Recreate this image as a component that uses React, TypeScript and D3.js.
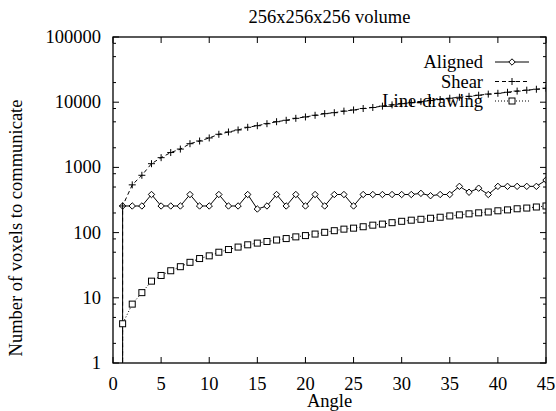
import React from "react";
import * as d3 from "d3";

const title = "256x256x256 volume";
const xLabel = "Angle";
const yLabel = "Number of voxels to communicate";

// angles 1..45; each series starts with a below-range point at angle 1 (vertical drop line)
const angles = [1, 1, 2, 3, 4, 5, 6, 7, 8, 9, 10, 11, 12, 13, 14, 15, 16, 17, 18, 19, 20, 21, 22, 23, 24, 25, 26, 27, 28, 29, 30, 31, 32, 33, 34, 35, 36, 37, 38, 39, 40, 41, 42, 43, 44, 45];

const aligned = [0.5, 256, 256, 256, 384, 256, 256, 256, 384, 256, 256, 384, 256, 256, 384, 230, 256, 384, 256, 384, 256, 384, 256, 384, 384, 256, 384, 384, 384, 384, 384, 384, 400, 368, 384, 384, 512, 416, 480, 384, 512, 512, 512, 512, 512, 640];

const shear = [0.5, 256, 540, 757, 1140, 1410, 1690, 1910, 2310, 2540, 2830, 3220, 3490, 3750, 4120, 4360, 4680, 5020, 5280, 5660, 5940, 6300, 6670, 6900, 7300, 7600, 8000, 8300, 8700, 9100, 9500, 9800, 10200, 10600, 11000, 11500, 11900, 12300, 12800, 13300, 13700, 14200, 14800, 15300, 15800, 16400];

const lineDrawing = [0.5, 4, 8, 12, 18, 22, 26, 30, 35, 40, 44, 50, 55, 60, 65, 69, 73, 77, 81, 86, 90, 95, 101, 107, 113, 117, 123, 130, 135, 142, 149, 155, 160, 166, 172, 180, 187, 194, 201, 207, 216, 223, 232, 238, 247, 256];

const xTicks = [0, 5, 10, 15, 20, 25, 30, 35, 40, 45];
const yTicks = [1, 10, 100, 1000, 10000, 100000];
const yTickLabels = ["1", "10", "100", "1000", "10000", "100000"];
const yMinorFactors = [2, 5, 8];

const seriesNames = ["Aligned", "Shear", "Line-drawing"];

const W = 556, H = 411;
const L = 113, R = 546, T = 37, B = 363;
const FONT = "'Liberation Serif', 'DejaVu Serif', serif";
const FS = 18.5;

function Marker({ kind, x, y }: { kind: string; x: number; y: number }) {
  if (kind === "diamond") {
    const s = 3.2;
    return <path d={`M${x},${y - s}L${x + s},${y}L${x},${y + s}L${x - s},${y}Z`} fill="white" stroke="black" strokeWidth={1} />;
  }
  if (kind === "plus") {
    const s = 3.5;
    return <path d={`M${x - s},${y}H${x + s}M${x},${y - s}V${y + s}`} stroke="black" strokeWidth={1} fill="none" />;
  }
  const s = 3;
  return <rect x={x - s} y={y - s} width={2 * s} height={2 * s} fill="white" stroke="black" strokeWidth={1} />;
}

export default function App() {
  const x = d3.scaleLinear().domain([0, 45]).range([L, R]);
  const y = d3.scaleLog().domain([1, 100000]).range([B, T]);

  const series = [
    { name: seriesNames[0], values: aligned, dash: undefined as string | undefined, marker: "diamond" },
    { name: seriesNames[1], values: shear, dash: "4,3", marker: "plus" },
    { name: seriesNames[2], values: lineDrawing, dash: "1,2", marker: "square" },
  ];

  const line = d3
    .line<number>()
    .x((_, i) => x(angles[i]))
    .y((v) => y(v));

  const minor: number[] = [];
  yTicks.slice(0, -1).forEach((t) => yMinorFactors.forEach((f) => minor.push(t * f)));

  return (
    <svg width={W} height={H} style={{ position: "absolute", left: 0, top: 0, background: "white" }} fontFamily={FONT}>
      <rect width={W} height={H} fill="white" />
      <defs>
        <clipPath id="plotclip">
          <rect x={L} y={T} width={R - L} height={B - T} />
        </clipPath>
      </defs>
      {/* title */}
      <text x={(L + R) / 2} y={23} textAnchor="middle" fontSize={FS}>{title}</text>
      {/* ticks */}
      {xTicks.map((t) => (
        <g key={"x" + t}>
          <line x1={x(t)} x2={x(t)} y1={B} y2={B - 6} stroke="black" />
          <line x1={x(t)} x2={x(t)} y1={T} y2={T + 6} stroke="black" />
          <text x={x(t)} y={390} textAnchor="middle" fontSize={FS}>{t}</text>
        </g>
      ))}
      {yTicks.map((t, i) => (
        <g key={"y" + t}>
          <line x1={L} x2={L + 6} y1={y(t)} y2={y(t)} stroke="black" />
          <line x1={R} x2={R - 6} y1={y(t)} y2={y(t)} stroke="black" />
          <text x={101} y={y(t) + 6} textAnchor="end" fontSize={FS}>{yTickLabels[i]}</text>
        </g>
      ))}
      {minor.map((t) => (
        <g key={"m" + t}>
          <line x1={L} x2={L + 3} y1={y(t)} y2={y(t)} stroke="black" />
          <line x1={R} x2={R - 3} y1={y(t)} y2={y(t)} stroke="black" />
        </g>
      ))}
      {/* axis labels */}
      <text x={(L + R) / 2} y={407} textAnchor="middle" fontSize={FS}>{xLabel}</text>
      <text transform={`translate(22,${(T + B) / 2 + 28}) rotate(-90)`} textAnchor="middle" fontSize={FS}>{yLabel}</text>
      {/* series */}
      <g clipPath="url(#plotclip)">
        {series.map((s) => (
          <path key={s.name} d={line(s.values) || ""} fill="none" stroke="black" strokeWidth={1} strokeDasharray={s.dash} />
        ))}
        {series.map((s) =>
          s.values.map((v, i) =>
            v >= 1 ? <Marker key={s.name + i} kind={s.marker} x={x(angles[i])} y={y(v)} /> : null
          )
        )}
      </g>
      {/* legend */}
      {series.map((s, i) => {
        const ly = 62 + i * 19.5;
        return (
          <g key={"lg" + s.name}>
            <text x={483} y={ly + 6} textAnchor="end" fontSize={FS}>{s.name}</text>
            <line x1={495} x2={529} y1={ly} y2={ly} stroke="black" strokeDasharray={s.dash} />
            <Marker kind={s.marker} x={512} y={ly} />
          </g>
        );
      })}
      {/* frame */}
      <rect x={L} y={T} width={R - L} height={B - T} fill="none" stroke="black" strokeWidth={1.3} />
    </svg>
  );
}
